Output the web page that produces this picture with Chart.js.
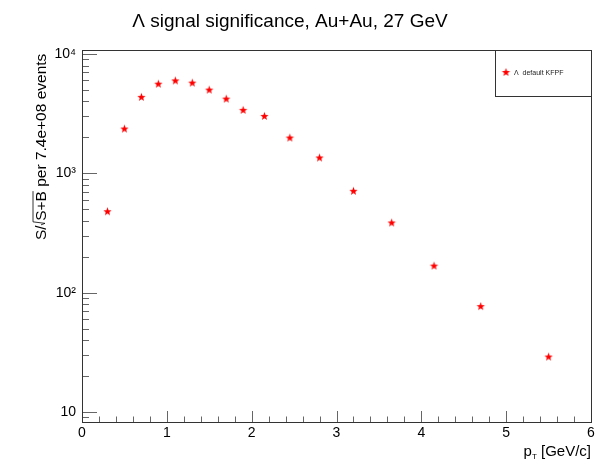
<!DOCTYPE html>
<html>
<head>
<meta charset="utf-8">
<script src="https://cdn.jsdelivr.net/npm/chart.js@4/dist/chart.umd.min.js"></script>
<style>
html,body{margin:0;padding:0;background:#fff;}
#wrap{width:602px;height:462px;position:relative;}
</style>
</head>
<body>
<div id="wrap"><canvas id="c" width="602" height="462"></canvas></div>
<script>
// ---- data ----
const ptValues = [0.3, 0.5, 0.7, 0.9, 1.1, 1.3, 1.5, 1.7, 1.9, 2.15, 2.45, 2.8, 3.2, 3.65, 4.15, 4.7, 5.5];
const significance = [477, 2350, 4330, 5590, 5950, 5700, 4980, 4190, 3370, 3000, 1975, 1345, 707, 384, 167, 76.5, 28.9];
const seriesName = "\u039B  default KFPF";
const titleText = "\u039B signal significance, Au+Au, 27 GeV";
const xTickValues = [0, 1, 2, 3, 4, 5, 6];
const yTickValues = [10, 100, 1000, 10000];
const yTickLabels = ["10", "10\u00B2", "10\u00B3", "10\u2074"];

const FONT = "'Liberation Sans', Arial, Helvetica, sans-serif";

// filled star marker (ROOT marker 29 style)
function makeStar(r) {
  const size = Math.ceil(r * 2 + 2);
  const cv = document.createElement('canvas');
  cv.width = size; cv.height = size;
  const g = cv.getContext('2d');
  const c = size / 2, ri = r * 0.42;
  g.beginPath();
  for (let i = 0; i < 10; i++) {
    const rad = (i % 2 === 0) ? r : ri;
    const a = -Math.PI / 2 + i * Math.PI / 5;
    const px = c + rad * Math.cos(a), py = c + rad * Math.sin(a);
    if (i === 0) g.moveTo(px, py); else g.lineTo(px, py);
  }
  g.closePath();
  g.fillStyle = '#ff0000';
  g.fill();
  return cv;
}
const star = makeStar(4.4);

const decorPlugin = {
  id: 'decor',
  afterDraw(chart) {
    const {ctx, chartArea: {left, right, top, bottom}, scales: {x, y}} = chart;
    ctx.save();
    // ticks
    ctx.strokeStyle = '#666';
    ctx.lineWidth = 1;
    ctx.beginPath();
    for (let i = 0; i <= 30; i++) {
      const v = i * 0.2;
      const px = Math.round(x.getPixelForValue(v)) + 0.5;
      const len = (i % 5 === 0) ? 11 : 5.5;
      ctx.moveTo(px, bottom);
      ctx.lineTo(px, bottom - len);
    }
    for (let d = 0; d <= 4; d++) {
      for (let m = 1; m <= 9; m++) {
        const v = m * Math.pow(10, d);
        if (v < y.min || v > y.max) continue;
        const py = Math.round(y.getPixelForValue(v)) + 0.5;
        const len = (m === 1) ? 15 : 7;
        ctx.moveTo(left, py);
        ctx.lineTo(left + len, py);
      }
    }
    ctx.stroke();
    // frame
    ctx.strokeStyle = '#333';
    ctx.strokeRect(Math.round(left) + 0.5, Math.round(top) + 0.5, Math.round(right - left), Math.round(bottom - top));

    // title
    ctx.fillStyle = '#000';
    ctx.font = '19px ' + FONT;
    ctx.textAlign = 'center';
    ctx.textBaseline = 'alphabetic';
    ctx.fillText(titleText, 290, 27);

    // x axis title: p_T [GeV/c]
    ctx.textAlign = 'left';
    const p = 'p', sub = 'T', rest = ' [GeV/c]';
    ctx.font = '15px ' + FONT;
    const wp = ctx.measureText(p).width;
    const wr = ctx.measureText(rest).width;
    ctx.font = '8px ' + FONT;
    const ws = ctx.measureText(sub).width;
    let xs = right - (wp + ws + wr);
    const by = 456;
    ctx.font = '15px ' + FONT;
    ctx.fillText(p, xs, by);
    ctx.font = '8px ' + FONT;
    ctx.fillText(sub, xs + wp, by + 3);
    ctx.font = '15px ' + FONT;
    ctx.fillText(rest, xs + wp + ws, by);

    // y axis title (rotated)
    ctx.save();
    ctx.translate(46, 240);
    ctx.rotate(-Math.PI / 2);
    ctx.font = '15.5px ' + FONT;
    ctx.textAlign = 'left';
    let cx = 0;
    const t1 = 'S/';
    ctx.fillText(t1, cx, 0); cx += ctx.measureText(t1).width;
    ctx.strokeStyle = '#000';
    ctx.lineWidth = 0.8;
    ctx.beginPath();
    ctx.moveTo(cx + 0.5, -5);
    ctx.lineTo(cx + 2, -1);
    ctx.lineTo(cx + 3.5, -13);
    const t2 = 'S+B';
    const w2 = ctx.measureText(t2).width;
    ctx.lineTo(cx + 4.5 + w2, -13);
    ctx.stroke();
    cx += 4.5;
    ctx.fillText(t2, cx, 0); cx += w2;
    ctx.fillText(' per 7.4e+08 events', cx, 0);
    ctx.restore();

    // legend box
    const lx0 = 495, ly0 = Math.round(top), lx1 = Math.round(right), ly1 = 96;
    ctx.fillStyle = '#fff';
    ctx.fillRect(lx0, ly0, lx1 - lx0, ly1 - ly0);
    ctx.strokeStyle = '#333';
    ctx.lineWidth = 1;
    ctx.strokeRect(lx0 + 0.5, ly0 + 0.5, lx1 - lx0, ly1 - ly0);
    ctx.drawImage(star, 506 - star.width / 2, 72.5 - star.height / 2);
    ctx.fillStyle = '#222';
    ctx.font = '7px ' + FONT;
    ctx.textAlign = 'left';
    ctx.textBaseline = 'middle';
    ctx.fillText(chart.data.datasets[0].label, 514, 73);
    ctx.restore();
  }
};

new Chart(document.getElementById('c'), {
  type: 'scatter',
  data: {
    datasets: [{
      label: seriesName,
      data: ptValues.map((v, i) => ({x: v, y: significance[i]})),
      pointStyle: star,
      pointRadius: 4,
      pointHoverRadius: 4,
      backgroundColor: '#ff0000',
      borderColor: '#ff0000',
      showLine: false
    }]
  },
  options: {
    responsive: false,
    animation: false,
    devicePixelRatio: 1,
    layout: {padding: {left: 0, right: 11, top: 50, bottom: 0}},
    plugins: {legend: {display: false}, title: {display: false}, tooltip: {enabled: false}},
    scales: {
      x: {
        type: 'linear', min: 0, max: 6,
        grid: {display: false, drawTicks: false},
        border: {display: false},
        afterBuildTicks: s => { s.ticks = xTickValues.map(v => ({value: v})); },
        afterFit: s => { s.height = 40; },
        ticks: {
          color: '#000', font: {family: FONT, size: 14}, padding: 3,
          maxRotation: 0, autoSkip: false,
          callback: v => String(v)
        }
      },
      y: {
        type: 'logarithmic', min: 8.25, max: 10800,
        grid: {display: false, drawTicks: false},
        border: {display: false},
        afterBuildTicks: s => { s.ticks = yTickValues.map(v => ({value: v})); },
        afterFit: s => { s.width = 82; },
        ticks: {
          color: '#000', font: {family: FONT, size: 14}, padding: 6,
          autoSkip: false,
          callback: v => { const i = yTickValues.indexOf(v); return i >= 0 ? yTickLabels[i] : ''; }
        }
      }
    }
  },
  plugins: [decorPlugin]
});
</script>
</body>
</html>
